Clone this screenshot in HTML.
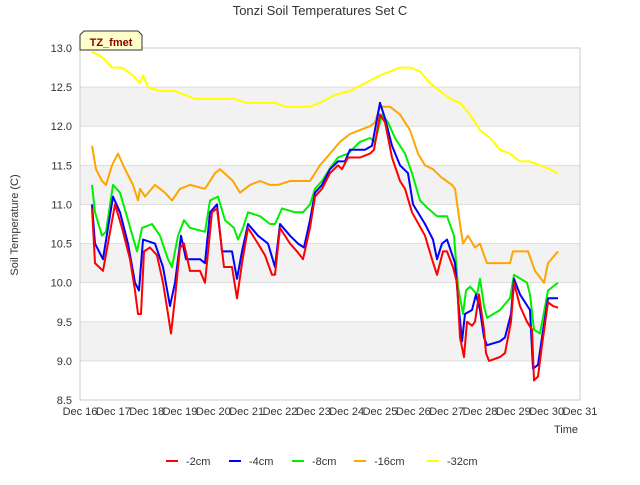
<!DOCTYPE html>
<html><head><meta charset="utf-8"><style>
body{margin:0;background:#fff;font-family:"Liberation Sans",sans-serif}
svg text{font-family:"Liberation Sans",sans-serif}
</style></head><body>
<svg id="chart" width="640" height="480" xmlns="http://www.w3.org/2000/svg">
<rect width="640" height="480" fill="#fff"/>
<g id="bands"></g>
<g id="grid"></g>
<rect x="80" y="48" width="500" height="352" fill="none" stroke="#ccc"/>
<g id="series"></g>
<g id="yticks"></g><g id="xticks"></g>
<text x="320" y="15" text-anchor="middle" font-size="13" fill="#333">Tonzi Soil Temperatures Set C</text>
<text x="18" y="225" text-anchor="middle" font-size="11" fill="#333" transform="rotate(-90 18 225)">Soil Temperature (C)</text>
<text x="566" y="433" text-anchor="middle" font-size="11" fill="#333">Time</text>
<g>
<path d="M80,50 L80,35 L84,31 L138,31 L142,35 L142,50 Z" fill="#ffffcc" stroke="#333"/>
<text x="111" y="46" text-anchor="middle" font-size="11" font-weight="bold" fill="#8b0000">TZ_fmet</text>
</g>
<g id="legend"></g>
</svg>
<script>
const yTicks=[8.5,9.0,9.5,10.0,10.5,11.0,11.5,12.0,12.5,13.0];
const xTickLabels=["Dec 16","Dec 17","Dec 18","Dec 19","Dec 20","Dec 21","Dec 22","Dec 23","Dec 24","Dec 25","Dec 26","Dec 27","Dec 28","Dec 29","Dec 30","Dec 31"];
const seriesNames=["-2cm","-4cm","-8cm","-16cm","-32cm"];
const seriesColors=["#ff0000","#0000ff","#00ee00","#ffa500","#ffff00"];
const t2=[.36,.45,.69,1.05,1.26,1.5,1.65,1.74,1.83,1.92,2.1,2.31,2.49,2.64,2.73,2.85,3.0,3.12,3.3,3.6,3.75,3.96,4.11,4.32,4.56,4.71,4.86,5.04,5.34,5.55,5.76,5.85,6.0,6.3,6.51,6.69,6.9,7.05,7.26,7.5,7.74,7.86,8.04,8.4,8.7,8.82,9.0,9.15,9.36,9.6,9.75,9.96,10.35,10.56,10.71,10.89,11.01,11.19,11.31,11.4,11.52,11.61,11.76,11.85,11.97,12.12,12.18,12.27,12.6,12.75,12.93,13.02,13.2,13.41,13.56,13.62,13.74,13.86,14.04,14.19,14.34];
const v2=[10.95,10.25,10.15,11.0,10.7,10.3,9.9,9.6,9.6,10.4,10.45,10.35,10.0,9.6,9.35,9.8,10.45,10.5,10.15,10.15,10.0,10.9,10.95,10.2,10.2,9.8,10.25,10.7,10.5,10.35,10.1,10.1,10.7,10.5,10.4,10.3,10.7,11.1,11.2,11.4,11.5,11.45,11.6,11.6,11.65,11.7,12.15,12.05,11.6,11.3,11.2,10.9,10.6,10.3,10.1,10.4,10.4,10.2,10.0,9.3,9.05,9.5,9.45,9.5,9.85,9.4,9.1,9.0,9.05,9.1,9.5,10.0,9.7,9.5,9.4,8.75,8.8,9.2,9.75,9.7,9.68];
const t4=[.36,.45,.69,.99,1.2,1.44,1.65,1.77,1.89,2.25,2.49,2.7,2.85,3.03,3.18,3.6,3.75,3.9,4.11,4.26,4.56,4.71,4.86,5.04,5.34,5.64,5.85,6.0,6.3,6.54,6.72,6.9,7.05,7.26,7.5,7.74,7.95,8.1,8.55,8.76,9.0,9.15,9.36,9.6,9.84,9.99,10.35,10.59,10.71,10.86,11.01,11.25,11.34,11.46,11.55,11.76,11.88,12.0,12.12,12.21,12.6,12.75,12.93,13.02,13.2,13.5,13.59,13.74,13.86,14.04,14.19,14.34];
const v4=[11.0,10.5,10.3,11.1,10.9,10.5,10.0,9.9,10.55,10.5,10.2,9.7,10.0,10.6,10.3,10.3,10.25,10.9,11.0,10.4,10.4,10.05,10.4,10.75,10.6,10.5,10.2,10.75,10.6,10.5,10.45,10.8,11.15,11.25,11.45,11.55,11.55,11.7,11.7,11.75,12.3,12.1,11.75,11.5,11.4,11.0,10.75,10.55,10.3,10.5,10.55,10.25,9.8,9.25,9.6,9.65,9.85,9.65,9.3,9.2,9.25,9.3,9.6,10.05,9.85,9.65,8.9,8.95,9.3,9.8,9.8,9.8];
const t8=[.36,.45,.66,.78,.99,1.2,1.44,1.71,1.86,2.16,2.4,2.64,2.76,2.94,3.12,3.3,3.75,3.9,4.14,4.35,4.62,4.74,4.89,5.04,5.4,5.7,5.85,6.06,6.45,6.69,6.9,7.05,7.26,7.56,7.74,8.04,8.4,8.7,8.85,9.06,9.24,9.45,9.75,9.96,10.2,10.44,10.71,11.01,11.22,11.34,11.49,11.58,11.7,11.91,12.0,12.12,12.21,12.6,12.9,13.02,13.41,13.5,13.62,13.8,14.04,14.34];
const v8=[11.25,10.9,10.6,10.65,11.25,11.15,10.8,10.4,10.7,10.75,10.6,10.3,10.2,10.6,10.8,10.7,10.65,11.05,11.1,10.8,10.7,10.55,10.7,10.9,10.85,10.75,10.75,10.95,10.9,10.9,11.0,11.2,11.3,11.5,11.6,11.65,11.8,11.85,11.8,12.15,12.05,11.85,11.65,11.4,11.05,10.95,10.85,10.85,10.6,9.95,9.6,9.9,9.95,9.85,10.05,9.7,9.55,9.65,9.8,10.1,10.0,9.85,9.4,9.35,9.9,10.0];
const t16=[.36,.48,.66,.78,.96,1.14,1.35,1.59,1.74,1.8,1.95,2.25,2.55,2.76,3.0,3.3,3.75,4.05,4.2,4.59,4.8,5.1,5.4,5.7,5.94,6.3,6.6,6.9,7.2,7.5,7.8,8.1,8.4,8.7,8.85,9.0,9.3,9.6,9.9,10.14,10.35,10.59,10.83,11.16,11.25,11.4,11.49,11.64,11.85,12.0,12.12,12.21,12.6,12.9,12.99,13.44,13.65,13.92,14.04,14.34];
const v16=[11.75,11.45,11.3,11.25,11.5,11.65,11.45,11.25,11.05,11.2,11.1,11.25,11.15,11.05,11.2,11.25,11.2,11.4,11.45,11.3,11.15,11.25,11.3,11.25,11.25,11.3,11.3,11.3,11.5,11.65,11.8,11.9,11.95,12.0,12.05,12.25,12.25,12.15,11.95,11.65,11.5,11.45,11.35,11.25,11.2,10.75,10.5,10.6,10.45,10.5,10.35,10.25,10.25,10.25,10.4,10.4,10.15,10.0,10.25,10.4];
const t32=[.36,.6,.75,.96,1.26,1.59,1.8,1.89,2.04,2.4,2.85,3.15,3.45,3.9,4.2,4.65,4.95,5.4,5.85,6.15,6.6,6.9,7.2,7.65,8.1,8.55,9.0,9.3,9.6,9.9,10.2,10.5,10.8,11.1,11.4,11.7,12.0,12.3,12.6,12.9,13.2,13.5,13.8,14.1,14.34];
const v32=[12.95,12.9,12.85,12.75,12.75,12.65,12.55,12.65,12.5,12.45,12.45,12.4,12.35,12.35,12.35,12.35,12.3,12.3,12.3,12.25,12.25,12.25,12.3,12.4,12.45,12.55,12.65,12.7,12.75,12.75,12.7,12.55,12.45,12.35,12.3,12.15,11.95,11.85,11.7,11.65,11.55,11.55,11.5,11.45,11.4];
const NS="http://www.w3.org/2000/svg";
const L=80,R=580,T=48,B=400;
const xs=d=>L+d*(R-L)/15;
const ys=v=>B-(v-8.5)*(B-T)/4.5;
function mk(tag,attrs,parent){const e=document.createElementNS(NS,tag);for(const k in attrs)e.setAttribute(k,attrs[k]);parent.appendChild(e);return e;}
const bands=document.getElementById('bands'),grid=document.getElementById('grid');
for(let i=0;i<yTicks.length-1;i++){
  if(i%2===1){const r=mk('rect',{x:L,y:ys(yTicks[i+1]),width:R-L,height:ys(yTicks[i])-ys(yTicks[i+1]),fill:'#f2f2f2'},bands);
  
  }
}
const yt=document.getElementById('yticks');
yTicks.forEach(v=>{
  const l=mk('line',{x1:L,x2:R,y1:ys(v),y2:ys(v),stroke:'#ddd'},grid);
  
  
  const t=mk('text',{x:L-8,y:ys(v)+4,'text-anchor':'end','font-size':11,fill:'#333'},yt);
  
  
  t.textContent=v.toFixed(1);
});
const xt=document.getElementById('xticks');
xTickLabels.forEach((s,i)=>{
  const t=mk('text',{x:xs(i),y:415,'text-anchor':'middle','font-size':11,fill:'#333'},xt);
  
  
  t.textContent=s;
});
const sg=document.getElementById('series');
const allT=[t2,t4,t8,t16,t32],allV=[v2,v4,v8,v16,v32];
[4,3,2,1,0].forEach(i=>{
  const pts=allT[i].map((d,j)=>xs(d).toFixed(1)+','+ys(allV[i][j]).toFixed(1)).join(' ');
  const p=mk('polyline',{points:pts,fill:'none',stroke:seriesColors[i],'stroke-width':2,'stroke-linejoin':'round'},sg);
  
  
});
const lg=document.getElementById('legend');
const lx=[166,229,292,354,427];
seriesNames.forEach((s,i)=>{
  const g=mk('g',{},lg);
  
  
  mk('line',{x1:lx[i],x2:lx[i]+12,y1:461,y2:461,stroke:seriesColors[i],'stroke-width':2},g);
  const t=mk('text',{x:lx[i]+20,y:465,'font-size':11,fill:'#333'},g);
  t.textContent=s;
});
</script>
</body></html>
